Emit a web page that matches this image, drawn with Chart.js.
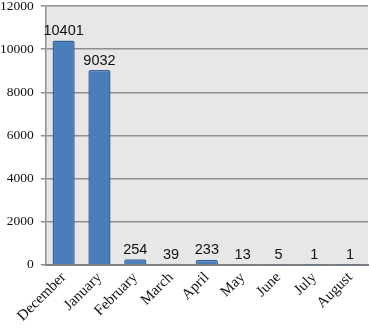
<!DOCTYPE html>
<html>
<head>
<meta charset="utf-8">
<script src="https://cdn.jsdelivr.net/npm/chart.js@4"></script>
<style>
  html, body { margin: 0; padding: 0; background: #fff; overflow: hidden; }
  #wrap { position: absolute; left: -7px; top: -9px; width: 376px; height: 342px; }
</style>
</head>
<body>
<div id="wrap"><canvas id="chart"></canvas></div>
<script>
const months = ['December', 'January', 'February', 'March', 'April', 'May', 'June', 'July', 'August'];
const counts = [10401, 9032, 254, 39, 233, 13, 5, 1, 1];
const yTicks = [0, 2000, 4000, 6000, 8000, 10000, 12000];

const ctx = document.querySelector('#chart').getContext('2d');

// grey plot area behind the bars
const plotBg = {
  id: 'plotBg',
  beforeDraw(chart) {
    const a = chart.chartArea;
    const c = chart.ctx;
    c.save();
    c.fillStyle = '#e7e7e7';
    c.fillRect(a.left, a.top, a.right - a.left, a.bottom - a.top);
    c.restore();
  }
};

// value labels on top of each bar
const valueLabels = {
  id: 'valueLabels',
  afterDatasetsDraw(chart) {
    const c = chart.ctx;
    const meta = chart.getDatasetMeta(0);
    c.save();
    c.font = '14.5px "Liberation Sans", Arial, sans-serif';
    c.fillStyle = '#111';
    c.textAlign = 'center';
    c.textBaseline = 'bottom';
    meta.data.forEach((bar, i) => {
      c.fillText(String(counts[i]), bar.x, bar.y - 2);
    });
    c.restore();
  }
};

new Chart(ctx, {
  type: 'bar',
  data: {
    labels: months,
    datasets: [{
      data: counts,
      backgroundColor: '#4a7ebb',
      borderColor: '#3a6399',
      borderWidth: 1.5,
      borderRadius: 2,
      borderSkipped: 'bottom',
      barPercentage: 0.62,
      categoryPercentage: 1
    }]
  },
  options: {
    responsive: true,
    maintainAspectRatio: false,
    animation: false,
    layout: { padding: { top: 0, right: 1, bottom: 4, left: 0 } },
    plugins: { legend: { display: false }, tooltip: { enabled: false } },
    scales: {
      x: {
        grid: { display: false, drawTicks: false },
        border: { color: '#7f7f7f', width: 2 },
        ticks: {
          minRotation: 45,
          maxRotation: 45,
          color: '#111',
          padding: 4,
          font: { family: '"Liberation Serif", "Times New Roman", serif', size: 15 }
        }
      },
      y: {
        min: 0,
        max: 12000,
        afterBuildTicks(axis) {
          axis.ticks = yTicks.map(v => ({ value: v }));
        },
        grid: { color: '#8f8f8f', lineWidth: 1.5, tickLength: 5 },
        border: { color: '#8f8f8f', width: 1.5 },
        ticks: {
          color: '#111',
          padding: 7,
          callback: v => String(v),
          font: { family: '"Liberation Serif", "Times New Roman", serif', size: 13.5 }
        }
      }
    }
  },
  plugins: [plotBg, valueLabels]
});
</script>
</body>
</html>
